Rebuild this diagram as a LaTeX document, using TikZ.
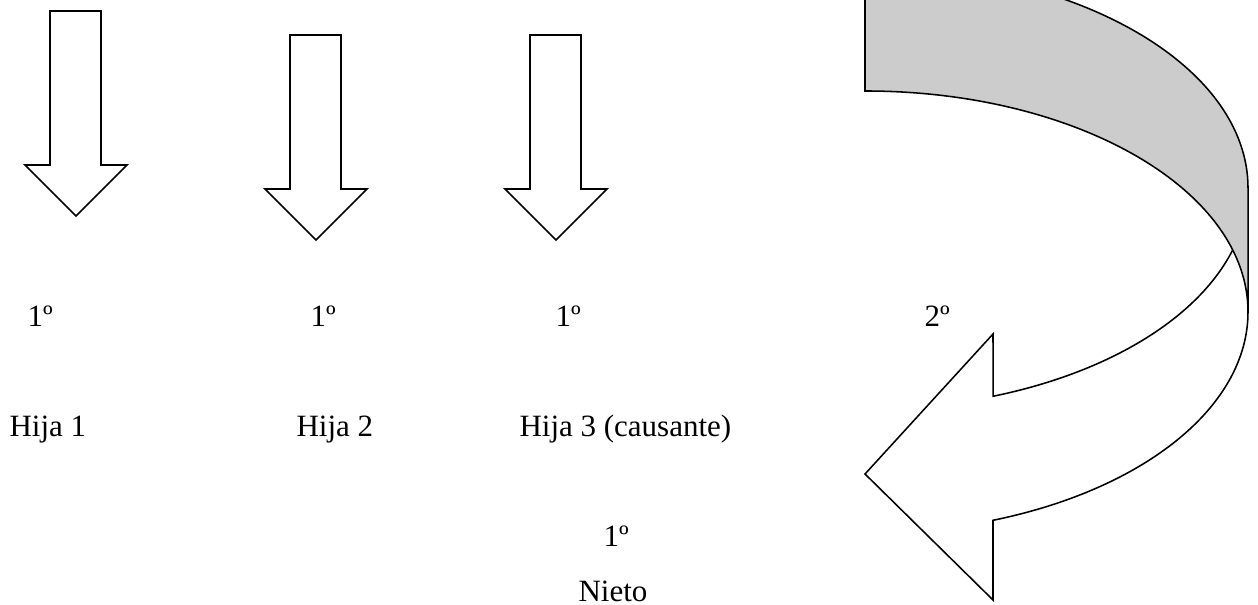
\documentclass[tikz,border=0pt]{standalone}
\usepackage{fontspec}
\setmainfont{Liberation Serif}
\begin{document}
\begin{tikzpicture}[x=0.01361cm, y=0.01361cm]
\useasboundingbox (0,0) rectangle (1258,605);

% definitions
\tikzstyle{blockarrow} = [draw=black, line width=0.6pt, fill=white, line join=miter]
\tikzstyle{band} = [draw=black, line width=0.6pt, fill=gray!40]
\tikzstyle{label} = [anchor=base west, inner sep=0pt, font=\fontsize{12}{14}\selectfont]

% straight arrows
\foreach \x/\t in {50/594, 290/570, 530/570}
  \draw [blockarrow] (\x,\t) -- (\x+51,\t) -- (\x+51,\t-154) -- (\x+77,\t-154)
    -- (\x+26,\t-205) -- (\x-25,\t-154) -- (\x,\t-154) -- cycle;

% curved arrow, front part
\draw [blockarrow] (1248,417) arc[start angle=0, end angle=-70.47, x radius=383, y radius=221]
  -- (993,271) -- (865,131) -- (993,5) -- (993,84.7)
  arc[start angle=-70.47, end angle=0, x radius=383, y radius=221] -- cycle;

% curved arrow, back part
\begin{scope}
\clip (0,0) rectangle (1258,605);
\draw [band] (865,514) -- (865,638)
  arc[start angle=90, end angle=0, x radius=383, y radius=221]
  -- (1248,293)
  arc[start angle=0, end angle=90, x radius=383, y radius=221] -- cycle;
\end{scope}

% degrees
\node (g1) [label] at (27,278) {1º};
\node (g2) [label] at (310,278) {1º};
\node (g3) [label] at (555,278) {1º};
\node (g4) [label] at (924,278) {2º};

% names
\node (h1) [label] at (9,168) {Hija 1};
\node (h2) [label] at (296,168) {Hija 2};
\node (h3) [label] at (519,168) {Hija 3 (causante)};

\node (g5) [label] at (603,58) {1º};
\node (n1) [label] at (578,3) {Nieto};

\end{tikzpicture}
\end{document}
